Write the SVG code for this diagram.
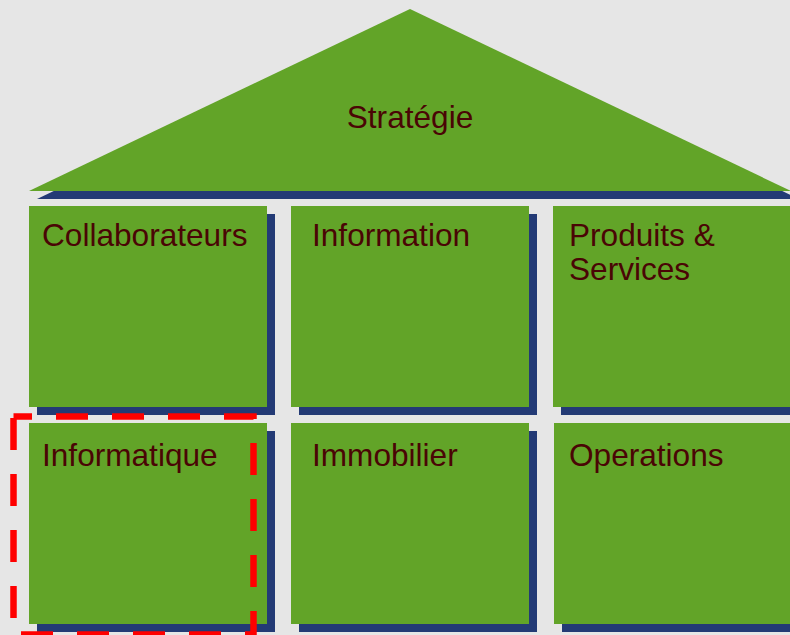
<svg xmlns="http://www.w3.org/2000/svg" width="790" height="635" viewBox="0 0 790 635">
<style>
.sh{fill:#233a75}
.bx{fill:#62a428}
.t{font-family:"Liberation Sans",Arial,sans-serif;font-size:31.6px;fill:#4a0505}
</style>
<rect width="790" height="635" fill="#e6e6e6"/>
<g id="roof">
<polygon class="sh" points="418,17 799,199 37,199"/>
<polygon class="bx" points="410,9 791,191 29,191"/>
<text class="t" x="410" y="128" text-anchor="middle">Stratégie</text>
</g>
<g id="collaborateurs">
<rect class="sh" x="37" y="214" width="238" height="201"/>
<rect class="bx" x="29" y="206" width="238" height="201"/>
<text class="t" x="42" y="246">Collaborateurs</text>
</g>
<g id="information">
<rect class="sh" x="299" y="214" width="238" height="201"/>
<rect class="bx" x="291" y="206" width="238" height="201"/>
<text class="t" x="312" y="246">Information</text>
</g>
<g id="produits">
<rect class="sh" x="561" y="214" width="238" height="201"/>
<rect class="bx" x="553" y="206" width="238" height="201"/>
<text class="t" x="569" y="246">Produits &amp;</text>
<text class="t" x="569" y="280">Services</text>
</g>
<g id="informatique">
<rect class="sh" x="37" y="431" width="238" height="201"/>
<rect class="bx" x="29" y="423" width="238" height="201"/>
<text class="t" x="42" y="466">Informatique</text>
</g>
<g id="immobilier">
<rect class="sh" x="299" y="431" width="238" height="201"/>
<rect class="bx" x="291" y="423" width="238" height="201"/>
<text class="t" x="312" y="466">Immobilier</text>
</g>
<g id="operations">
<rect class="sh" x="562" y="431" width="238" height="201"/>
<rect class="bx" x="554" y="423" width="238" height="201"/>
<text class="t" x="569" y="466">Operations</text>
</g>
<g id="connectors">
<rect x="13.5" y="416.5" width="240" height="218" fill="none" stroke="#ff0000" stroke-width="6.5" stroke-dasharray="32 24" stroke-dashoffset="13.5"/>
</g>
</svg>
